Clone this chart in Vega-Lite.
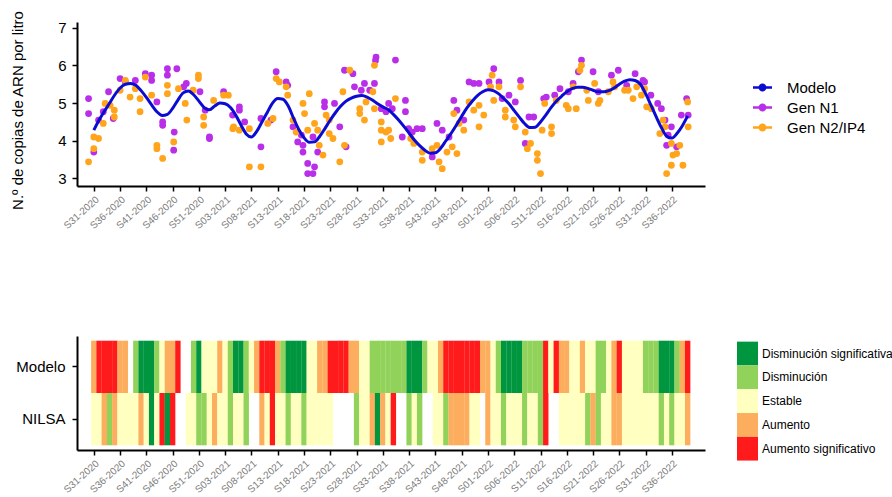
{
"$schema": "https://vega.github.io/schema/vega-lite/v6.json",
"background": "white",
"padding": {"left": 9, "top": 10, "right": 0, "bottom": 0},
"bounds": "flush",
"spacing": 150,
"config": {
  "view": {"stroke": null},
  "font": "Liberation Sans",
  "axis": {"grid": false, "domainColor": "black", "domainWidth": 2, "tickColor": "black", "tickWidth": 1.5, "labelFont": "Liberation Sans", "titleFont": "Liberation Sans"},
  "legend": {"labelFont": "Liberation Sans"}
},
"resolve": {"scale": {"color": "independent", "x": "independent", "y": "independent"}, "legend": {"color": "independent"}},
"datasets": {
"modelo": [
{"semana":0,"valor":4.28,"serie":"Modelo"},{"semana":1,"valor":4.55,"serie":"Modelo"},{"semana":2,"valor":4.78,"serie":"Modelo"},{"semana":3,"valor":5.0,"serie":"Modelo"},{"semana":4,"valor":5.22,"serie":"Modelo"},{"semana":5,"valor":5.4,"serie":"Modelo"},{"semana":6,"valor":5.5,"serie":"Modelo"},{"semana":7,"valor":5.52,"serie":"Modelo"},{"semana":8,"valor":5.47,"serie":"Modelo"},{"semana":9,"valor":5.33,"serie":"Modelo"},
{"semana":10,"valor":5.15,"serie":"Modelo"},{"semana":11,"valor":4.95,"serie":"Modelo"},{"semana":12,"valor":4.77,"serie":"Modelo"},{"semana":13,"valor":4.67,"serie":"Modelo"},{"semana":14,"valor":4.7,"serie":"Modelo"},{"semana":15,"valor":4.86,"serie":"Modelo"},{"semana":16,"valor":5.08,"serie":"Modelo"},{"semana":17,"valor":5.27,"serie":"Modelo"},{"semana":18,"valor":5.32,"serie":"Modelo"},{"semana":19,"valor":5.22,"serie":"Modelo"},
{"semana":20,"valor":5.05,"serie":"Modelo"},{"semana":21,"valor":4.88,"serie":"Modelo"},{"semana":22,"valor":4.82,"serie":"Modelo"},{"semana":23,"valor":4.92,"serie":"Modelo"},{"semana":24,"valor":5.0,"serie":"Modelo"},{"semana":25,"valor":4.98,"serie":"Modelo"},{"semana":26,"valor":4.88,"serie":"Modelo"},{"semana":27,"valor":4.68,"serie":"Modelo"},{"semana":28,"valor":4.42,"serie":"Modelo"},{"semana":29,"valor":4.18,"serie":"Modelo"},
{"semana":30,"valor":4.1,"serie":"Modelo"},{"semana":31,"valor":4.25,"serie":"Modelo"},{"semana":32,"valor":4.5,"serie":"Modelo"},{"semana":33,"valor":4.75,"serie":"Modelo"},{"semana":34,"valor":5.0,"serie":"Modelo"},{"semana":35,"valor":5.12,"serie":"Modelo"},{"semana":36,"valor":5.1,"serie":"Modelo"},{"semana":37,"valor":4.92,"serie":"Modelo"},{"semana":38,"valor":4.6,"serie":"Modelo"},{"semana":39,"valor":4.3,"serie":"Modelo"},
{"semana":40,"valor":4.08,"serie":"Modelo"},{"semana":41,"valor":3.96,"serie":"Modelo"},{"semana":42,"valor":3.97,"serie":"Modelo"},{"semana":43,"valor":4.12,"serie":"Modelo"},{"semana":44,"valor":4.33,"serie":"Modelo"},{"semana":45,"valor":4.55,"serie":"Modelo"},{"semana":46,"valor":4.75,"serie":"Modelo"},{"semana":47,"valor":4.92,"serie":"Modelo"},{"semana":48,"valor":5.05,"serie":"Modelo"},{"semana":49,"valor":5.13,"serie":"Modelo"},
{"semana":50,"valor":5.18,"serie":"Modelo"},{"semana":51,"valor":5.2,"serie":"Modelo"},{"semana":52,"valor":5.16,"serie":"Modelo"},{"semana":53,"valor":5.08,"serie":"Modelo"},{"semana":54,"valor":4.98,"serie":"Modelo"},{"semana":55,"valor":4.9,"serie":"Modelo"},{"semana":56,"valor":4.83,"serie":"Modelo"},{"semana":57,"valor":4.7,"serie":"Modelo"},{"semana":58,"valor":4.55,"serie":"Modelo"},{"semana":59,"valor":4.38,"serie":"Modelo"},
{"semana":60,"valor":4.2,"serie":"Modelo"},{"semana":61,"valor":4.02,"serie":"Modelo"},{"semana":62,"valor":3.87,"serie":"Modelo"},{"semana":63,"valor":3.75,"serie":"Modelo"},{"semana":64,"valor":3.67,"serie":"Modelo"},{"semana":65,"valor":3.68,"serie":"Modelo"},{"semana":66,"valor":3.8,"serie":"Modelo"},{"semana":67,"valor":4.0,"serie":"Modelo"},{"semana":68,"valor":4.2,"serie":"Modelo"},{"semana":69,"valor":4.42,"serie":"Modelo"},
{"semana":70,"valor":4.65,"serie":"Modelo"},{"semana":71,"valor":4.87,"serie":"Modelo"},{"semana":72,"valor":5.05,"serie":"Modelo"},{"semana":73,"valor":5.2,"serie":"Modelo"},{"semana":74,"valor":5.3,"serie":"Modelo"},{"semana":75,"valor":5.35,"serie":"Modelo"},{"semana":76,"valor":5.33,"serie":"Modelo"},{"semana":77,"valor":5.25,"serie":"Modelo"},{"semana":78,"valor":5.12,"serie":"Modelo"},{"semana":79,"valor":4.98,"serie":"Modelo"},
{"semana":80,"valor":4.8,"serie":"Modelo"},{"semana":81,"valor":4.62,"serie":"Modelo"},{"semana":82,"valor":4.45,"serie":"Modelo"},{"semana":83,"valor":4.35,"serie":"Modelo"},{"semana":84,"valor":4.36,"serie":"Modelo"},{"semana":85,"valor":4.5,"serie":"Modelo"},{"semana":86,"valor":4.68,"serie":"Modelo"},{"semana":87,"valor":4.88,"serie":"Modelo"},{"semana":88,"valor":5.05,"serie":"Modelo"},{"semana":89,"valor":5.18,"serie":"Modelo"},
{"semana":90,"valor":5.3,"serie":"Modelo"},{"semana":91,"valor":5.38,"serie":"Modelo"},{"semana":92,"valor":5.42,"serie":"Modelo"},{"semana":93,"valor":5.42,"serie":"Modelo"},{"semana":94,"valor":5.39,"serie":"Modelo"},{"semana":95,"valor":5.34,"serie":"Modelo"},{"semana":96,"valor":5.3,"serie":"Modelo"},{"semana":97,"valor":5.3,"serie":"Modelo"},{"semana":98,"valor":5.33,"serie":"Modelo"},{"semana":99,"valor":5.4,"serie":"Modelo"},
{"semana":100,"valor":5.5,"serie":"Modelo"},{"semana":101,"valor":5.58,"serie":"Modelo"},{"semana":102,"valor":5.62,"serie":"Modelo"},{"semana":103,"valor":5.6,"serie":"Modelo"},{"semana":104,"valor":5.5,"serie":"Modelo"},{"semana":105,"valor":5.25,"serie":"Modelo"},{"semana":106,"valor":4.95,"serie":"Modelo"},{"semana":107,"valor":4.64,"serie":"Modelo"},{"semana":108,"valor":4.35,"serie":"Modelo"},{"semana":109,"valor":4.12,"serie":"Modelo"},
{"semana":110,"valor":4.07,"serie":"Modelo"},{"semana":111,"valor":4.2,"serie":"Modelo"},{"semana":112,"valor":4.4,"serie":"Modelo"},{"semana":113,"valor":4.66,"serie":"Modelo"}
],
"puntos": [
{"semana":-1.0,"valor":5.12,"serie":"Gen N1"},{"semana":-1.0,"valor":4.72,"serie":"Gen N1"},{"semana":0.0,"valor":3.7,"serie":"Gen N1"},{"semana":0.9,"valor":4.55,"serie":"Gen N1"},{"semana":1.8,"valor":4.77,"serie":"Gen N1"},{"semana":2.8,"valor":5.3,"serie":"Gen N1"},{"semana":3.7,"valor":4.59,"serie":"Gen N1"},{"semana":5.0,"valor":5.65,"serie":"Gen N1"},{"semana":6.0,"valor":5.56,"serie":"Gen N1"},{"semana":7.9,"valor":5.6,"serie":"Gen N1"},
{"semana":9.8,"valor":5.78,"serie":"Gen N1"},{"semana":11.0,"valor":5.74,"serie":"Gen N1"},{"semana":11.0,"valor":5.6,"serie":"Gen N1"},{"semana":12.0,"valor":5.03,"serie":"Gen N1"},{"semana":13.1,"valor":4.5,"serie":"Gen N1"},{"semana":13.1,"valor":4.41,"serie":"Gen N1"},{"semana":14.0,"valor":5.91,"serie":"Gen N1"},{"semana":14.0,"valor":5.74,"serie":"Gen N1"},{"semana":15.8,"valor":5.91,"serie":"Gen N1"},{"semana":15.3,"valor":4.23,"serie":"Gen N1"},
{"semana":15.2,"valor":3.75,"serie":"Gen N1"},{"semana":17.6,"valor":5.52,"serie":"Gen N1"},{"semana":17.1,"valor":5.43,"serie":"Gen N1"},{"semana":20.2,"valor":5.3,"serie":"Gen N1"},{"semana":21.2,"valor":4.81,"serie":"Gen N1"},{"semana":22.0,"valor":4.1,"serie":"Gen N1"},{"semana":22.0,"valor":4.06,"serie":"Gen N1"},{"semana":24.7,"valor":5.3,"serie":"Gen N1"},{"semana":26.4,"valor":4.68,"serie":"Gen N1"},
{"semana":27.7,"valor":4.9,"serie":"Gen N1"},{"semana":27.7,"valor":4.81,"serie":"Gen N1"},{"semana":28.7,"valor":4.5,"serie":"Gen N1"},{"semana":31.8,"valor":4.59,"serie":"Gen N1"},{"semana":31.8,"valor":3.84,"serie":"Gen N1"},{"semana":33.7,"valor":4.55,"serie":"Gen N1"},{"semana":34.7,"valor":5.83,"serie":"Gen N1"},{"semana":36.6,"valor":5.56,"serie":"Gen N1"},{"semana":36.9,"valor":5.47,"serie":"Gen N1"},{"semana":37.9,"valor":4.37,"serie":"Gen N1"},
{"semana":38.8,"valor":3.97,"serie":"Gen N1"},{"semana":39.8,"valor":3.88,"serie":"Gen N1"},{"semana":39.5,"valor":4.15,"serie":"Gen N1"},{"semana":39.8,"valor":3.7,"serie":"Gen N1"},{"semana":40.7,"valor":3.4,"serie":"Gen N1"},{"semana":40.7,"valor":3.13,"serie":"Gen N1"},{"semana":41.7,"valor":3.13,"serie":"Gen N1"},{"semana":42.0,"valor":3.31,"serie":"Gen N1"},{"semana":42.6,"valor":3.7,"serie":"Gen N1"},{"semana":41.7,"valor":4.1,"serie":"Gen N1"},
{"semana":43.9,"valor":5.03,"serie":"Gen N1"},{"semana":43.9,"valor":4.9,"serie":"Gen N1"},{"semana":45.8,"valor":4.99,"serie":"Gen N1"},{"semana":46.8,"valor":4.37,"serie":"Gen N1"},{"semana":47.7,"valor":5.87,"serie":"Gen N1"},{"semana":49.3,"valor":5.78,"serie":"Gen N1"},{"semana":48.0,"valor":3.84,"serie":"Gen N1"},{"semana":49.6,"valor":5.43,"serie":"Gen N1"},{"semana":50.9,"valor":5.34,"serie":"Gen N1"},{"semana":51.5,"valor":5.52,"serie":"Gen N1"},
{"semana":52.5,"valor":5.34,"serie":"Gen N1"},{"semana":53.4,"valor":5.52,"serie":"Gen N1"},{"semana":53.7,"valor":6.22,"serie":"Gen N1"},{"semana":53.6,"valor":6.13,"serie":"Gen N1"},{"semana":54.7,"valor":4.85,"serie":"Gen N1"},{"semana":55.6,"valor":4.77,"serie":"Gen N1"},
{"semana":57.4,"valor":6.14,"serie":"Gen N1"},{"semana":56.1,"valor":4.99,"serie":"Gen N1"},{"semana":56.8,"valor":4.85,"serie":"Gen N1"},{"semana":59.3,"valor":5.07,"serie":"Gen N1"},{"semana":59.3,"valor":4.77,"serie":"Gen N1"},{"semana":58.7,"valor":4.1,"serie":"Gen N1"},{"semana":59.9,"valor":4.32,"serie":"Gen N1"},{"semana":60.6,"valor":4.23,"serie":"Gen N1"},{"semana":62.5,"valor":4.32,"serie":"Gen N1"},{"semana":61.5,"valor":4.32,"serie":"Gen N1"},
{"semana":65.3,"valor":4.46,"serie":"Gen N1"},{"semana":66.3,"valor":4.28,"serie":"Gen N1"},{"semana":64.4,"valor":3.57,"serie":"Gen N1"},{"semana":67.6,"valor":4.1,"serie":"Gen N1"},{"semana":68.5,"valor":5.07,"serie":"Gen N1"},{"semana":69.1,"valor":4.81,"serie":"Gen N1"},{"semana":70.4,"valor":4.55,"serie":"Gen N1"},{"semana":71.4,"valor":5.56,"serie":"Gen N1"},{"semana":72.3,"valor":5.52,"serie":"Gen N1"},{"semana":73.3,"valor":5.52,"serie":"Gen N1"},
{"semana":76.1,"valor":5.91,"serie":"Gen N1"},{"semana":75.2,"valor":5.56,"serie":"Gen N1"},{"semana":77.1,"valor":5.56,"serie":"Gen N1"},{"semana":77.7,"valor":5.12,"serie":"Gen N1"},{"semana":79.0,"valor":5.21,"serie":"Gen N1"},{"semana":80.2,"valor":5.03,"serie":"Gen N1"},{"semana":81.2,"valor":5.6,"serie":"Gen N1"},{"semana":82.8,"valor":4.63,"serie":"Gen N1"},{"semana":83.7,"valor":4.63,"serie":"Gen N1"},{"semana":82.1,"valor":3.93,"serie":"Gen N1"},
{"semana":85.6,"valor":5.12,"serie":"Gen N1"},{"semana":86.1,"valor":5.16,"serie":"Gen N1"},{"semana":87.7,"valor":5.21,"serie":"Gen N1"},{"semana":88.7,"valor":5.38,"serie":"Gen N1"},{"semana":90.3,"valor":5.3,"serie":"Gen N1"},{"semana":91.2,"valor":5.52,"serie":"Gen N1"},{"semana":92.2,"valor":5.83,"serie":"Gen N1"},{"semana":92.8,"valor":6.14,"serie":"Gen N1"},{"semana":95.0,"valor":5.83,"serie":"Gen N1"},{"semana":96.0,"valor":5.3,"serie":"Gen N1"},
{"semana":98.5,"valor":5.74,"serie":"Gen N1"},{"semana":99.8,"valor":5.87,"serie":"Gen N1"},{"semana":101.4,"valor":5.47,"serie":"Gen N1"},{"semana":103.0,"valor":5.78,"serie":"Gen N1"},{"semana":104.5,"valor":5.6,"serie":"Gen N1"},{"semana":104.8,"valor":5.56,"serie":"Gen N1"},{"semana":106.0,"valor":5.21,"serie":"Gen N1"},{"semana":107.3,"valor":4.99,"serie":"Gen N1"},{"semana":108.0,"valor":4.85,"serie":"Gen N1"},{"semana":108.7,"valor":4.55,"serie":"Gen N1"},
{"semana":109.3,"valor":4.15,"serie":"Gen N1"},{"semana":109.9,"valor":4.37,"serie":"Gen N1"},{"semana":110.9,"valor":3.84,"serie":"Gen N1"},{"semana":111.8,"valor":4.68,"serie":"Gen N1"},{"semana":112.8,"valor":5.12,"serie":"Gen N1"},{"semana":113.1,"valor":4.68,"serie":"Gen N1"},{"semana":109.0,"valor":3.88,"serie":"Gen N1"},
{"semana":-1.0,"valor":3.44,"serie":"Gen N2/IP4"},{"semana":0.0,"valor":4.1,"serie":"Gen N2/IP4"},{"semana":0.0,"valor":3.79,"serie":"Gen N2/IP4"},{"semana":0.9,"valor":4.06,"serie":"Gen N2/IP4"},{"semana":1.8,"valor":4.46,"serie":"Gen N2/IP4"},{"semana":2.15,"valor":4.99,"serie":"Gen N2/IP4"},{"semana":3.1,"valor":4.94,"serie":"Gen N2/IP4"},{"semana":3.9,"valor":4.81,"serie":"Gen N2/IP4"},{"semana":3.9,"valor":4.63,"serie":"Gen N2/IP4"},{"semana":5.0,"valor":5.34,"serie":"Gen N2/IP4"},
{"semana":6.0,"valor":5.6,"serie":"Gen N2/IP4"},{"semana":6.9,"valor":5.16,"serie":"Gen N2/IP4"},{"semana":7.9,"valor":5.38,"serie":"Gen N2/IP4"},{"semana":8.8,"valor":4.77,"serie":"Gen N2/IP4"},{"semana":8.8,"valor":5.12,"serie":"Gen N2/IP4"},{"semana":9.8,"valor":5.69,"serie":"Gen N2/IP4"},{"semana":11.0,"valor":5.21,"serie":"Gen N2/IP4"},{"semana":12.0,"valor":3.88,"serie":"Gen N2/IP4"},{"semana":12.0,"valor":3.79,"serie":"Gen N2/IP4"},{"semana":13.1,"valor":3.53,"serie":"Gen N2/IP4"},
{"semana":14.0,"valor":5.47,"serie":"Gen N2/IP4"},{"semana":14.0,"valor":5.25,"serie":"Gen N2/IP4"},{"semana":15.2,"valor":3.97,"serie":"Gen N2/IP4"},{"semana":16.1,"valor":5.38,"serie":"Gen N2/IP4"},{"semana":17.4,"valor":4.99,"serie":"Gen N2/IP4"},{"semana":17.7,"valor":4.55,"serie":"Gen N2/IP4"},{"semana":18.9,"valor":5.34,"serie":"Gen N2/IP4"},{"semana":19.9,"valor":5.74,"serie":"Gen N2/IP4"},{"semana":19.9,"valor":5.65,"serie":"Gen N2/IP4"},{"semana":20.9,"valor":4.63,"serie":"Gen N2/IP4"},
{"semana":20.9,"valor":4.41,"serie":"Gen N2/IP4"},{"semana":22.8,"valor":5.07,"serie":"Gen N2/IP4"},{"semana":24.7,"valor":5.21,"serie":"Gen N2/IP4"},{"semana":25.6,"valor":5.21,"serie":"Gen N2/IP4"},{"semana":26.6,"valor":4.37,"serie":"Gen N2/IP4"},
{"semana":26.45,"valor":4.32,"serie":"Gen N2/IP4"},{"semana":27.7,"valor":4.28,"serie":"Gen N2/IP4"},{"semana":29.6,"valor":4.32,"serie":"Gen N2/IP4"},{"semana":29.6,"valor":3.31,"serie":"Gen N2/IP4"},{"semana":31.8,"valor":3.31,"serie":"Gen N2/IP4"},{"semana":33.1,"valor":4.46,"serie":"Gen N2/IP4"},{"semana":34.1,"valor":4.59,"serie":"Gen N2/IP4"},{"semana":34.7,"valor":5.65,"serie":"Gen N2/IP4"},{"semana":35.3,"valor":5.56,"serie":"Gen N2/IP4"},{"semana":36.6,"valor":5.43,"serie":"Gen N2/IP4"},
{"semana":36.9,"valor":5.21,"serie":"Gen N2/IP4"},{"semana":37.9,"valor":4.55,"serie":"Gen N2/IP4"},{"semana":38.5,"valor":4.23,"serie":"Gen N2/IP4"},{"semana":39.8,"valor":4.99,"serie":"Gen N2/IP4"},{"semana":40.1,"valor":4.72,"serie":"Gen N2/IP4"},{"semana":41.0,"valor":5.25,"serie":"Gen N2/IP4"},{"semana":40.7,"valor":4.28,"serie":"Gen N2/IP4"},{"semana":42.0,"valor":4.46,"serie":"Gen N2/IP4"},{"semana":42.6,"valor":4.28,"serie":"Gen N2/IP4"},{"semana":42.9,"valor":3.88,"serie":"Gen N2/IP4"},
{"semana":43.6,"valor":3.62,"serie":"Gen N2/IP4"},{"semana":44.2,"valor":4.68,"serie":"Gen N2/IP4"},{"semana":44.8,"valor":4.55,"serie":"Gen N2/IP4"},{"semana":44.8,"valor":4.19,"serie":"Gen N2/IP4"},{"semana":45.5,"valor":4.06,"serie":"Gen N2/IP4"},{"semana":46.8,"valor":3.44,"serie":"Gen N2/IP4"},{"semana":47.4,"valor":5.3,"serie":"Gen N2/IP4"},{"semana":48.7,"valor":5.87,"serie":"Gen N2/IP4"},{"semana":47.7,"valor":3.88,"serie":"Gen N2/IP4"},{"semana":50.6,"valor":4.85,"serie":"Gen N2/IP4"},
{"semana":50.6,"valor":4.72,"serie":"Gen N2/IP4"},{"semana":51.5,"valor":4.55,"serie":"Gen N2/IP4"},{"semana":51.8,"valor":5.03,"serie":"Gen N2/IP4"},{"semana":53.1,"valor":5.3,"serie":"Gen N2/IP4"},{"semana":53.4,"valor":6.0,"serie":"Gen N2/IP4"},{"semana":53.4,"valor":4.85,"serie":"Gen N2/IP4"},{"semana":54.7,"valor":4.5,"serie":"Gen N2/IP4"},{"semana":54.7,"valor":4.28,"serie":"Gen N2/IP4"},{"semana":54.7,"valor":3.97,"serie":"Gen N2/IP4"},{"semana":55.6,"valor":4.23,"serie":"Gen N2/IP4"},
{"semana":57.4,"valor":5.12,"serie":"Gen N2/IP4"},{"semana":56.1,"valor":4.28,"serie":"Gen N2/IP4"},{"semana":56.5,"valor":4.06,"serie":"Gen N2/IP4"},{"semana":60.3,"valor":4.06,"serie":"Gen N2/IP4"},{"semana":60.9,"valor":3.93,"serie":"Gen N2/IP4"},{"semana":62.5,"valor":3.7,"serie":"Gen N2/IP4"},{"semana":62.5,"valor":3.48,"serie":"Gen N2/IP4"},{"semana":64.4,"valor":3.79,"serie":"Gen N2/IP4"},{"semana":65.3,"valor":3.88,"serie":"Gen N2/IP4"},{"semana":65.7,"valor":3.44,"serie":"Gen N2/IP4"},
{"semana":66.3,"valor":3.26,"serie":"Gen N2/IP4"},{"semana":67.2,"valor":3.7,"serie":"Gen N2/IP4"},{"semana":68.2,"valor":3.84,"serie":"Gen N2/IP4"},{"semana":69.1,"valor":3.66,"serie":"Gen N2/IP4"},{"semana":68.5,"valor":4.72,"serie":"Gen N2/IP4"},{"semana":69.5,"valor":4.46,"serie":"Gen N2/IP4"},{"semana":70.4,"valor":4.28,"serie":"Gen N2/IP4"},{"semana":71.4,"valor":5.03,"serie":"Gen N2/IP4"},{"semana":72.3,"valor":4.81,"serie":"Gen N2/IP4"},{"semana":73.3,"valor":4.94,"serie":"Gen N2/IP4"},
{"semana":73.3,"valor":4.37,"serie":"Gen N2/IP4"},{"semana":74.2,"valor":4.68,"serie":"Gen N2/IP4"},{"semana":75.8,"valor":5.74,"serie":"Gen N2/IP4"},{"semana":75.5,"valor":5.43,"serie":"Gen N2/IP4"},{"semana":76.1,"valor":5.07,"serie":"Gen N2/IP4"},{"semana":77.1,"valor":5.43,"serie":"Gen N2/IP4"},{"semana":78.3,"valor":4.81,"serie":"Gen N2/IP4"},{"semana":78.3,"valor":4.63,"serie":"Gen N2/IP4"},{"semana":79.9,"valor":4.55,"serie":"Gen N2/IP4"},{"semana":80.2,"valor":4.37,"serie":"Gen N2/IP4"},
{"semana":81.2,"valor":5.43,"serie":"Gen N2/IP4"},{"semana":82.1,"valor":4.23,"serie":"Gen N2/IP4"},{"semana":82.5,"valor":3.79,"serie":"Gen N2/IP4"},{"semana":83.1,"valor":3.93,"serie":"Gen N2/IP4"},{"semana":84.4,"valor":3.66,"serie":"Gen N2/IP4"},{"semana":84.4,"valor":3.48,"serie":"Gen N2/IP4"},{"semana":85.0,"valor":3.13,"serie":"Gen N2/IP4"},{"semana":85.3,"valor":4.28,"serie":"Gen N2/IP4"},
{"semana":85.8,"valor":4.99,"serie":"Gen N2/IP4"},{"semana":87.1,"valor":4.19,"serie":"Gen N2/IP4"},{"semana":87.1,"valor":4.37,"serie":"Gen N2/IP4"},{"semana":88.0,"valor":5.07,"serie":"Gen N2/IP4"},{"semana":89.9,"valor":4.94,"serie":"Gen N2/IP4"},{"semana":90.3,"valor":4.85,"serie":"Gen N2/IP4"},{"semana":91.2,"valor":5.43,"serie":"Gen N2/IP4"},{"semana":91.8,"valor":4.85,"serie":"Gen N2/IP4"},{"semana":92.5,"valor":5.87,"serie":"Gen N2/IP4"},{"semana":92.8,"valor":6.0,"serie":"Gen N2/IP4"},
{"semana":93.8,"valor":5.34,"serie":"Gen N2/IP4"},{"semana":94.1,"valor":5.07,"serie":"Gen N2/IP4"},{"semana":95.3,"valor":5.52,"serie":"Gen N2/IP4"},{"semana":96.0,"valor":4.99,"serie":"Gen N2/IP4"},{"semana":96.3,"valor":5.07,"serie":"Gen N2/IP4"},{"semana":97.9,"valor":5.3,"serie":"Gen N2/IP4"},{"semana":98.8,"valor":5.56,"serie":"Gen N2/IP4"},{"semana":99.1,"valor":5.43,"serie":"Gen N2/IP4"},{"semana":101.0,"valor":5.34,"serie":"Gen N2/IP4"},{"semana":101.7,"valor":5.34,"serie":"Gen N2/IP4"},
{"semana":102.6,"valor":5.12,"serie":"Gen N2/IP4"},{"semana":103.3,"valor":5.43,"serie":"Gen N2/IP4"},{"semana":104.2,"valor":5.21,"serie":"Gen N2/IP4"},{"semana":104.8,"valor":5.38,"serie":"Gen N2/IP4"},{"semana":105.2,"valor":4.9,"serie":"Gen N2/IP4"},{"semana":106.1,"valor":4.85,"serie":"Gen N2/IP4"},{"semana":107.7,"valor":4.19,"serie":"Gen N2/IP4"},{"semana":108.3,"valor":4.55,"serie":"Gen N2/IP4"},{"semana":108.7,"valor":4.37,"serie":"Gen N2/IP4"},{"semana":109.0,"valor":3.13,"serie":"Gen N2/IP4"},
{"semana":109.9,"valor":3.35,"serie":"Gen N2/IP4"},{"semana":110.2,"valor":3.62,"serie":"Gen N2/IP4"},{"semana":110.9,"valor":3.66,"serie":"Gen N2/IP4"},{"semana":109.9,"valor":3.93,"serie":"Gen N2/IP4"},{"semana":111.5,"valor":3.88,"serie":"Gen N2/IP4"},{"semana":112.1,"valor":3.35,"serie":"Gen N2/IP4"},{"semana":113.1,"valor":4.37,"serie":"Gen N2/IP4"},{"semana":113.0,"valor":5.03,"serie":"Gen N2/IP4"}
],
"estados": [
{"semana":0,"fila":"Modelo","estado":"Aumento"},{"semana":1,"fila":"Modelo","estado":"Aumento significativo"},{"semana":2,"fila":"Modelo","estado":"Aumento significativo"},{"semana":3,"fila":"Modelo","estado":"Aumento significativo"},{"semana":4,"fila":"Modelo","estado":"Aumento significativo"},{"semana":5,"fila":"Modelo","estado":"Aumento"},{"semana":6,"fila":"Modelo","estado":"Aumento"},{"semana":8,"fila":"Modelo","estado":"Disminución"},{"semana":9,"fila":"Modelo","estado":"Disminución significativa"},
{"semana":10,"fila":"Modelo","estado":"Disminución significativa"},{"semana":11,"fila":"Modelo","estado":"Disminución significativa"},{"semana":12,"fila":"Modelo","estado":"Disminución"},{"semana":13,"fila":"Modelo","estado":"Estable"},{"semana":14,"fila":"Modelo","estado":"Aumento"},{"semana":15,"fila":"Modelo","estado":"Aumento"},{"semana":16,"fila":"Modelo","estado":"Aumento significativo"},{"semana":19,"fila":"Modelo","estado":"Disminución"},
{"semana":20,"fila":"Modelo","estado":"Disminución significativa"},{"semana":21,"fila":"Modelo","estado":"Estable"},{"semana":22,"fila":"Modelo","estado":"Estable"},{"semana":23,"fila":"Modelo","estado":"Estable"},{"semana":24,"fila":"Modelo","estado":"Aumento"},{"semana":25,"fila":"Modelo","estado":"Estable"},{"semana":26,"fila":"Modelo","estado":"Disminución"},{"semana":27,"fila":"Modelo","estado":"Disminución significativa"},{"semana":28,"fila":"Modelo","estado":"Disminución significativa"},{"semana":29,"fila":"Modelo","estado":"Disminución"},
{"semana":30,"fila":"Modelo","estado":"Estable"},{"semana":31,"fila":"Modelo","estado":"Aumento"},{"semana":32,"fila":"Modelo","estado":"Aumento significativo"},{"semana":33,"fila":"Modelo","estado":"Aumento significativo"},{"semana":34,"fila":"Modelo","estado":"Aumento significativo"},{"semana":35,"fila":"Modelo","estado":"Aumento"},{"semana":36,"fila":"Modelo","estado":"Disminución"},{"semana":37,"fila":"Modelo","estado":"Disminución significativa"},{"semana":38,"fila":"Modelo","estado":"Disminución significativa"},{"semana":39,"fila":"Modelo","estado":"Disminución significativa"},
{"semana":40,"fila":"Modelo","estado":"Disminución significativa"},{"semana":41,"fila":"Modelo","estado":"Estable"},{"semana":42,"fila":"Modelo","estado":"Estable"},{"semana":43,"fila":"Modelo","estado":"Aumento"},{"semana":44,"fila":"Modelo","estado":"Aumento"},{"semana":45,"fila":"Modelo","estado":"Aumento significativo"},{"semana":46,"fila":"Modelo","estado":"Aumento significativo"},{"semana":47,"fila":"Modelo","estado":"Aumento significativo"},{"semana":48,"fila":"Modelo","estado":"Aumento significativo"},{"semana":49,"fila":"Modelo","estado":"Aumento"},
{"semana":50,"fila":"Modelo","estado":"Aumento"},{"semana":51,"fila":"Modelo","estado":"Estable"},{"semana":52,"fila":"Modelo","estado":"Estable"},{"semana":53,"fila":"Modelo","estado":"Disminución"},{"semana":54,"fila":"Modelo","estado":"Disminución"},{"semana":55,"fila":"Modelo","estado":"Disminución"},{"semana":56,"fila":"Modelo","estado":"Disminución"},{"semana":57,"fila":"Modelo","estado":"Disminución"},{"semana":58,"fila":"Modelo","estado":"Disminución"},{"semana":59,"fila":"Modelo","estado":"Disminución"},
{"semana":60,"fila":"Modelo","estado":"Disminución significativa"},{"semana":61,"fila":"Modelo","estado":"Disminución significativa"},{"semana":62,"fila":"Modelo","estado":"Disminución significativa"},{"semana":63,"fila":"Modelo","estado":"Disminución"},{"semana":64,"fila":"Modelo","estado":"Estable"},{"semana":65,"fila":"Modelo","estado":"Estable"},{"semana":66,"fila":"Modelo","estado":"Aumento"},{"semana":67,"fila":"Modelo","estado":"Aumento significativo"},{"semana":68,"fila":"Modelo","estado":"Aumento significativo"},{"semana":69,"fila":"Modelo","estado":"Aumento significativo"},
{"semana":70,"fila":"Modelo","estado":"Aumento significativo"},{"semana":71,"fila":"Modelo","estado":"Aumento significativo"},{"semana":72,"fila":"Modelo","estado":"Aumento significativo"},{"semana":73,"fila":"Modelo","estado":"Aumento significativo"},{"semana":74,"fila":"Modelo","estado":"Aumento"},{"semana":75,"fila":"Modelo","estado":"Aumento"},{"semana":76,"fila":"Modelo","estado":"Estable"},{"semana":77,"fila":"Modelo","estado":"Disminución"},{"semana":78,"fila":"Modelo","estado":"Disminución significativa"},{"semana":79,"fila":"Modelo","estado":"Disminución significativa"},
{"semana":80,"fila":"Modelo","estado":"Disminución significativa"},{"semana":81,"fila":"Modelo","estado":"Disminución significativa"},{"semana":82,"fila":"Modelo","estado":"Disminución"},{"semana":83,"fila":"Modelo","estado":"Disminución"},{"semana":84,"fila":"Modelo","estado":"Disminución"},{"semana":85,"fila":"Modelo","estado":"Disminución"},{"semana":86,"fila":"Modelo","estado":"Aumento significativo"},{"semana":87,"fila":"Modelo","estado":"Estable"},{"semana":88,"fila":"Modelo","estado":"Aumento significativo"},{"semana":89,"fila":"Modelo","estado":"Aumento"},
{"semana":90,"fila":"Modelo","estado":"Aumento"},{"semana":91,"fila":"Modelo","estado":"Estable"},{"semana":92,"fila":"Modelo","estado":"Estable"},{"semana":93,"fila":"Modelo","estado":"Aumento"},{"semana":94,"fila":"Modelo","estado":"Estable"},{"semana":95,"fila":"Modelo","estado":"Estable"},{"semana":96,"fila":"Modelo","estado":"Disminución"},{"semana":97,"fila":"Modelo","estado":"Disminución"},{"semana":98,"fila":"Modelo","estado":"Estable"},{"semana":99,"fila":"Modelo","estado":"Aumento"},
{"semana":100,"fila":"Modelo","estado":"Aumento significativo"},{"semana":101,"fila":"Modelo","estado":"Estable"},{"semana":102,"fila":"Modelo","estado":"Estable"},{"semana":103,"fila":"Modelo","estado":"Estable"},{"semana":104,"fila":"Modelo","estado":"Estable"},{"semana":105,"fila":"Modelo","estado":"Disminución"},{"semana":106,"fila":"Modelo","estado":"Disminución"},{"semana":107,"fila":"Modelo","estado":"Disminución"},{"semana":108,"fila":"Modelo","estado":"Disminución significativa"},{"semana":109,"fila":"Modelo","estado":"Disminución significativa"},
{"semana":110,"fila":"Modelo","estado":"Disminución significativa"},{"semana":111,"fila":"Modelo","estado":"Disminución"},{"semana":112,"fila":"Modelo","estado":"Aumento"},{"semana":113,"fila":"Modelo","estado":"Aumento significativo"},
{"semana":0,"fila":"NILSA","estado":"Estable"},{"semana":1,"fila":"NILSA","estado":"Estable"},{"semana":2,"fila":"NILSA","estado":"Aumento"},{"semana":3,"fila":"NILSA","estado":"Disminución"},{"semana":4,"fila":"NILSA","estado":"Aumento"},{"semana":5,"fila":"NILSA","estado":"Estable"},{"semana":6,"fila":"NILSA","estado":"Estable"},{"semana":7,"fila":"NILSA","estado":"Estable"},{"semana":8,"fila":"NILSA","estado":"Estable"},{"semana":9,"fila":"NILSA","estado":"Aumento"},
{"semana":10,"fila":"NILSA","estado":"Estable"},{"semana":11,"fila":"NILSA","estado":"Disminución significativa"},{"semana":12,"fila":"NILSA","estado":"Estable"},{"semana":13,"fila":"NILSA","estado":"Aumento significativo"},{"semana":14,"fila":"NILSA","estado":"Disminución significativa"},{"semana":15,"fila":"NILSA","estado":"Aumento significativo"},{"semana":18,"fila":"NILSA","estado":"Estable"},{"semana":19,"fila":"NILSA","estado":"Estable"},
{"semana":20,"fila":"NILSA","estado":"Disminución"},{"semana":21,"fila":"NILSA","estado":"Disminución"},{"semana":22,"fila":"NILSA","estado":"Estable"},{"semana":23,"fila":"NILSA","estado":"Aumento"},{"semana":24,"fila":"NILSA","estado":"Estable"},{"semana":25,"fila":"NILSA","estado":"Estable"},{"semana":26,"fila":"NILSA","estado":"Disminución"},{"semana":27,"fila":"NILSA","estado":"Estable"},{"semana":28,"fila":"NILSA","estado":"Estable"},{"semana":29,"fila":"NILSA","estado":"Disminución"},
{"semana":32,"fila":"NILSA","estado":"Aumento"},{"semana":33,"fila":"NILSA","estado":"Estable"},{"semana":34,"fila":"NILSA","estado":"Aumento significativo"},{"semana":35,"fila":"NILSA","estado":"Estable"},{"semana":36,"fila":"NILSA","estado":"Estable"},{"semana":37,"fila":"NILSA","estado":"Disminución"},{"semana":38,"fila":"NILSA","estado":"Estable"},{"semana":39,"fila":"NILSA","estado":"Estable"},
{"semana":40,"fila":"NILSA","estado":"Disminución"},{"semana":41,"fila":"NILSA","estado":"Estable"},{"semana":42,"fila":"NILSA","estado":"Estable"},{"semana":43,"fila":"NILSA","estado":"Estable"},{"semana":44,"fila":"NILSA","estado":"Estable"},{"semana":45,"fila":"NILSA","estado":"Estable"},
{"semana":50,"fila":"NILSA","estado":"Disminución"},{"semana":51,"fila":"NILSA","estado":"Estable"},{"semana":52,"fila":"NILSA","estado":"Estable"},{"semana":53,"fila":"NILSA","estado":"Aumento"},{"semana":54,"fila":"NILSA","estado":"Disminución significativa"},{"semana":55,"fila":"NILSA","estado":"Aumento"},{"semana":56,"fila":"NILSA","estado":"Estable"},{"semana":57,"fila":"NILSA","estado":"Aumento significativo"},
{"semana":60,"fila":"NILSA","estado":"Disminución"},{"semana":61,"fila":"NILSA","estado":"Estable"},{"semana":62,"fila":"NILSA","estado":"Disminución"},{"semana":65,"fila":"NILSA","estado":"Estable"},{"semana":66,"fila":"NILSA","estado":"Estable"},{"semana":67,"fila":"NILSA","estado":"Disminución"},{"semana":68,"fila":"NILSA","estado":"Aumento"},{"semana":69,"fila":"NILSA","estado":"Aumento"},
{"semana":70,"fila":"NILSA","estado":"Aumento"},{"semana":71,"fila":"NILSA","estado":"Aumento"},{"semana":72,"fila":"NILSA","estado":"Estable"},{"semana":73,"fila":"NILSA","estado":"Estable"},{"semana":75,"fila":"NILSA","estado":"Aumento"},{"semana":76,"fila":"NILSA","estado":"Estable"},{"semana":77,"fila":"NILSA","estado":"Estable"},{"semana":78,"fila":"NILSA","estado":"Disminución"},{"semana":79,"fila":"NILSA","estado":"Estable"},
{"semana":80,"fila":"NILSA","estado":"Estable"},{"semana":81,"fila":"NILSA","estado":"Estable"},{"semana":82,"fila":"NILSA","estado":"Disminución"},{"semana":83,"fila":"NILSA","estado":"Estable"},{"semana":84,"fila":"NILSA","estado":"Estable"},{"semana":85,"fila":"NILSA","estado":"Disminución"},{"semana":86,"fila":"NILSA","estado":"Aumento significativo"},{"semana":89,"fila":"NILSA","estado":"Estable"},
{"semana":90,"fila":"NILSA","estado":"Estable"},{"semana":91,"fila":"NILSA","estado":"Estable"},{"semana":92,"fila":"NILSA","estado":"Estable"},{"semana":93,"fila":"NILSA","estado":"Estable"},{"semana":94,"fila":"NILSA","estado":"Disminución"},{"semana":95,"fila":"NILSA","estado":"Aumento"},{"semana":96,"fila":"NILSA","estado":"Disminución"},{"semana":97,"fila":"NILSA","estado":"Estable"},{"semana":98,"fila":"NILSA","estado":"Estable"},{"semana":99,"fila":"NILSA","estado":"Aumento"},
{"semana":100,"fila":"NILSA","estado":"Aumento"},{"semana":101,"fila":"NILSA","estado":"Estable"},{"semana":102,"fila":"NILSA","estado":"Estable"},{"semana":103,"fila":"NILSA","estado":"Estable"},{"semana":104,"fila":"NILSA","estado":"Estable"},{"semana":105,"fila":"NILSA","estado":"Estable"},{"semana":106,"fila":"NILSA","estado":"Estable"},{"semana":107,"fila":"NILSA","estado":"Estable"},{"semana":108,"fila":"NILSA","estado":"Disminución"},{"semana":109,"fila":"NILSA","estado":"Estable"},
{"semana":110,"fila":"NILSA","estado":"Disminución"},{"semana":111,"fila":"NILSA","estado":"Estable"},{"semana":112,"fila":"NILSA","estado":"Estable"},{"semana":113,"fila":"NILSA","estado":"Aumento"}
]
},
"vconcat": [
{
  "width": 628, "height": 164,
  "encoding": {
    "x": {"field": "semana", "type": "quantitative", "scale": {"domain": [-3.2, 116.3], "nice": false, "zero": false},
          "axis": {"title": null, "values": [0,5,10,15,20,25,30,35,40,45,50,55,60,65,70,75,80,85,90,95,100,105,110],
                   "labelExpr": "['S31-2020','S36-2020','S41-2020','S46-2020','S51-2020','S03-2021','S08-2021','S13-2021','S18-2021','S23-2021','S28-2021','S33-2021','S38-2021','S43-2021','S48-2021','S01-2022','S06-2022','S11-2022','S16-2022','S21-2022','S26-2022','S31-2022','S36-2022'][round(datum.value/5)]",
                   "labelAngle": -42, "labelAlign": "right", "labelBaseline": "top", "labelFontSize": 10, "labelColor": "#7a7a7a", "tickSize": 5, "labelPadding": 3, "labelOverlap": false, "labelBound": false, "labelFlush": false}},
    "y": {"field": "valor", "type": "quantitative", "scale": {"domain": [2.8, 7.15], "nice": false, "zero": false},
          "axis": {"title": "N.º de copias de ARN por litro", "titleFontSize": 15, "titleFontWeight": "normal", "titleColor": "black",
                   "titleX": -60, "titleY": 88, "titleAngle": 270, "titleAlign": "center", "titleBaseline": "middle",
                   "values": [3,4,5,6,7], "labelFontSize": 15, "labelColor": "black", "tickSize": 5, "labelPadding": 6}},
    "color": {"field": "serie", "type": "nominal",
              "scale": {"domain": ["Modelo", "Gen N1", "Gen N2/IP4"], "range": ["#0b0bd2", "#b92ee8", "#ffa41b"]},
              "legend": {"title": null, "orient": "none", "legendX": 676, "legendY": 56,
                         "symbolType": "M-1,-0.13L1,-0.13L1,0.13L-1,0.13Z M0.42,0A0.42,0.42 0 1,1 -0.42,0A0.42,0.42 0 1,1 0.42,0Z",
                         "symbolSize": 361, "symbolStrokeWidth": 0, "symbolOpacity": 1, "labelFontSize": 15, "labelColor": "black", "labelOffset": 15, "rowPadding": 2, "padding": 0}}
  },
  "layer": [
    {
      "data": {"name": "puntos"},
      "mark": {"type": "circle", "size": 46, "opacity": 1}
    },
    {
      "data": {"name": "modelo"},
      "mark": {"type": "line", "interpolate": "monotone", "strokeWidth": 3}
    }
  ]
},
{
  "width": 628, "height": 114,
  "data": {"name": "estados"},
  "mark": {"type": "tick", "thickness": 5.4, "size": 52.3, "opacity": 1, "orient": "vertical"},
  "encoding": {
    "x": {"field": "semana", "type": "quantitative", "scale": {"domain": [-3.2, 116.3], "nice": false, "zero": false},
          "axis": {"title": null, "values": [0,5,10,15,20,25,30,35,40,45,50,55,60,65,70,75,80,85,90,95,100,105,110],
                   "labelExpr": "['S31-2020','S36-2020','S41-2020','S46-2020','S51-2020','S03-2021','S08-2021','S13-2021','S18-2021','S23-2021','S28-2021','S33-2021','S38-2021','S43-2021','S48-2021','S01-2022','S06-2022','S11-2022','S16-2022','S21-2022','S26-2022','S31-2022','S36-2022'][round(datum.value/5)]",
                   "labelAngle": -42, "labelAlign": "right", "labelBaseline": "top", "labelFontSize": 10, "labelColor": "#7a7a7a", "tickSize": 5, "labelPadding": 3, "labelOverlap": false, "labelBound": false, "labelFlush": false}},
    "y": {"field": "fila", "type": "nominal", "scale": {"domain": ["Modelo", "NILSA"], "paddingInner": 0, "paddingOuter": 0.09},
          "axis": {"title": null, "labelFontSize": 15, "labelColor": "black", "tickSize": 5, "labelPadding": 7}},
    "color": {"field": "estado", "type": "nominal",
              "scale": {"domain": ["Disminución significativa", "Disminución", "Estable", "Aumento", "Aumento significativo"],
                        "range": ["#00963f", "#90d25a", "#ffffc0", "#fdad5e", "#ff1b1b"]},
              "legend": {"title": null, "orient": "none", "legendX": 660, "legendY": 7,
                         "symbolType": "M-1,-1.13L1,-1.13L1,1.13L-1,1.13Z", "symbolSize": 441,
                         "symbolStrokeWidth": 0, "symbolOpacity": 1, "labelFontSize": 12, "labelColor": "black", "labelOffset": 4, "rowPadding": -1.2, "padding": 0}}
  }
}
]
}
